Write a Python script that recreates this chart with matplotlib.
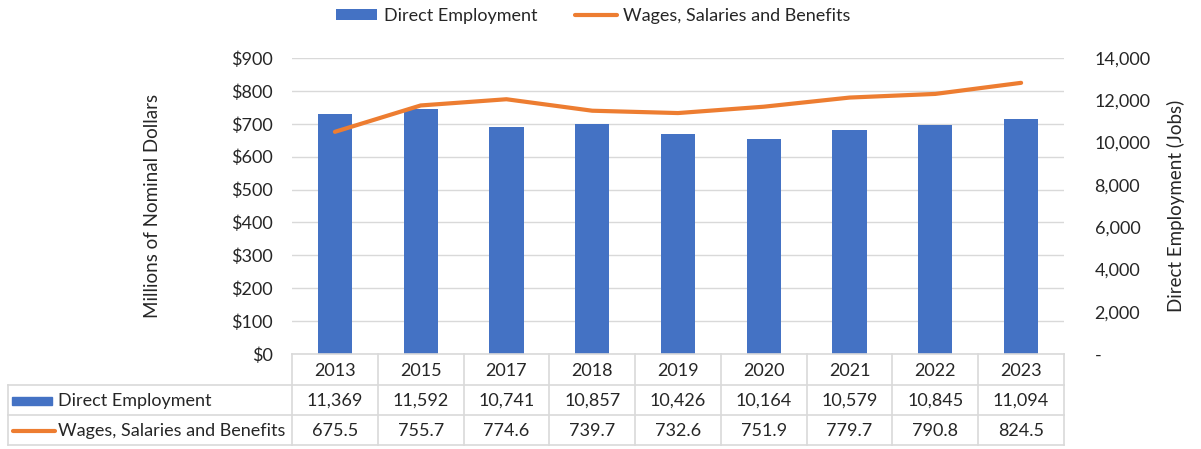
import matplotlib
matplotlib.use("Agg")
import matplotlib.pyplot as plt
from matplotlib.patches import Patch, Rectangle
from matplotlib.lines import Line2D
import matplotlib.transforms as mtransforms

plt.rcParams['font.family'] = ['Lato', 'DejaVu Sans']

years = ["2013", "2015", "2017", "2018", "2019", "2020", "2021", "2022", "2023"]
employment = [11369, 11592, 10741, 10857, 10426, 10164, 10579, 10845, 11094]
wages = [675.5, 755.7, 774.6, 739.7, 732.6, 751.9, 779.7, 790.8, 824.5]
dollar_ticks = [0, 100, 200, 300, 400, 500, 600, 700, 800, 900]
job_ticks = [0, 2000, 4000, 6000, 8000, 10000, 12000, 14000]

BLUE = "#4472C4"
ORANGE = "#ED7D31"
GRID = "#D9D9D9"
TXT = "#262626"
FS = 13

W, H = 1201, 449
fig = plt.figure(figsize=(W / 100, H / 100), dpi=100)
L, R, T, B = 292, 1064, 58, 354
rect = [L / W, 1 - B / H, (R - L) / W, (B - T) / H]

x = list(range(len(years)))

# grid axis (dollars, left)
ax = fig.add_axes(rect)
ax.set_xlim(-0.5, len(years) - 0.5)
ax.set_ylim(0, 900)
ax.set_yticks(dollar_ticks)
ax.set_yticklabels([f"${v}" for v in dollar_ticks])
ax.grid(axis="y", color=GRID, linewidth=1)
ax.set_xticks([])
for s in ax.spines.values():
    s.set_visible(False)
ax.tick_params(axis="y", length=0, pad=14, labelsize=FS, labelcolor=TXT)
ax.set_ylabel("Millions of Nominal Dollars", fontsize=FS + 0.5, color=TXT, labelpad=50)

# bars (jobs, right)
axb = ax.twinx()
axb.set_ylim(0, 14000)
axb.bar(x, employment, width=0.4, color=BLUE)
axb.set_yticks(job_ticks)
axb.set_yticklabels(["-" if v == 0 else f"{v:,}" for v in job_ticks])
for s in axb.spines.values():
    s.set_visible(False)
axb.tick_params(axis="y", length=0, pad=22, labelsize=FS, labelcolor=TXT)
axb.set_ylabel("Direct Employment (Jobs)", fontsize=FS + 0.5, color=TXT, labelpad=12)

# line (dollars)
axl = ax.twinx()
axl.set_ylim(0, 900)
axl.plot(x, wages, color=ORANGE, linewidth=3, solid_capstyle="round")
axl.set_yticks([])
for s in axl.spines.values():
    s.set_visible(False)

# data table
tr = mtransforms.blended_transform_factory(ax.transData, fig.transFigure)
rows_y = [354, 385, 415, 445]
fy = lambda p: 1 - p / H
tl = 8 / W
tright = R / W
lc = "#D9D9D9"
fig.add_artist(Line2D([L / W, tright], [fy(rows_y[0])] * 2, transform=fig.transFigure, color=lc, lw=1.2))
for yy in rows_y[1:]:
    fig.add_artist(Line2D([tl, tright], [fy(yy)] * 2, transform=fig.transFigure, color=lc, lw=1.2))
for i in range(len(years) + 1):
    fig.add_artist(Line2D([i - 0.5, i - 0.5], [fy(rows_y[0]), fy(rows_y[3])], transform=tr, color=lc, lw=1.2))
fig.add_artist(Line2D([tl, tl], [fy(rows_y[1]), fy(rows_y[3])], transform=fig.transFigure, color=lc, lw=1.2))

for i, yr in enumerate(years):
    fig.text(i, fy((rows_y[0] + rows_y[1]) / 2 + 1), yr, transform=tr, ha="center", va="center", fontsize=FS, color=TXT)
    fig.text(i, fy((rows_y[1] + rows_y[2]) / 2 + 1), f"{employment[i]:,}", transform=tr, ha="center", va="center", fontsize=FS, color=TXT)
    fig.text(i, fy((rows_y[2] + rows_y[3]) / 2 + 1), f"{wages[i]:.1f}", transform=tr, ha="center", va="center", fontsize=FS, color=TXT)

y1 = fy((rows_y[1] + rows_y[2]) / 2 + 1)
y2 = fy((rows_y[2] + rows_y[3]) / 2 + 1)
fig.add_artist(Rectangle((12 / W, y1 - 4 / H), 40 / W, 8 / H, transform=fig.transFigure, color=BLUE))
fig.add_artist(Line2D([13 / W, 55 / W], [y2, y2], transform=fig.transFigure, color=ORANGE, lw=3, solid_capstyle="round"))
fig.text(58 / W, y1, "Direct Employment", ha="left", va="center", fontsize=FS, color=TXT)
fig.text(58 / W, y2, "Wages, Salaries and Benefits", ha="left", va="center", fontsize=FS, color=TXT)

# legend
handles = [Patch(facecolor=BLUE, edgecolor="none"),
           Line2D([0], [0], color=ORANGE, lw=3, solid_capstyle="round")]
fig.legend(handles, ["Direct Employment", "Wages, Salaries and Benefits"], loc="center",
           bbox_to_anchor=(593 / W, 1 - 16 / H), ncol=2, frameon=False, fontsize=FS,
           handlelength=2.3, handleheight=0.5, columnspacing=2.1, handletextpad=0.35,
           labelcolor=TXT)

fig.savefig("out.png", dpi=100)
